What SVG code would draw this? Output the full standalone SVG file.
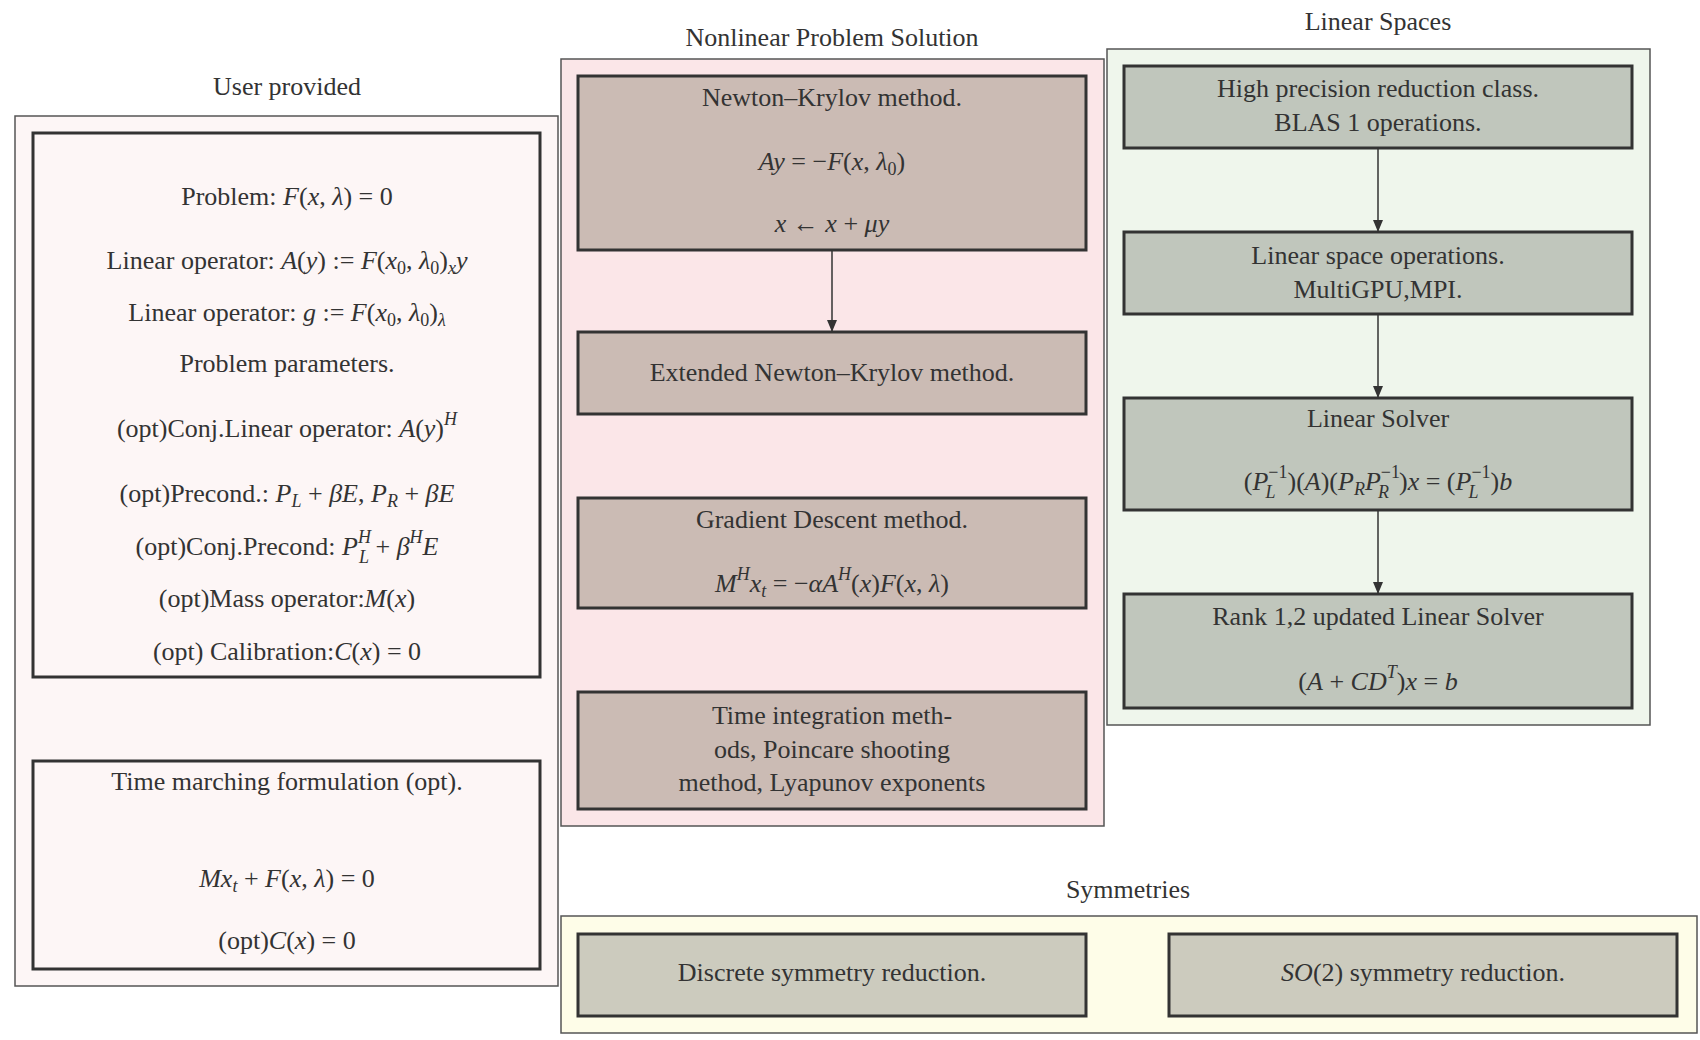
<svg xmlns="http://www.w3.org/2000/svg" width="1700" height="1040" viewBox="0 0 1700 1040">
<style>
text{font-family:"Liberation Serif","DejaVu Serif",serif;font-size:26px;fill:#333;text-anchor:middle}
.t{font-size:26px}
.i{font-style:italic}
.s{font-size:18px}
.outer{stroke:#555;stroke-width:1.5}
.node{stroke:#333;stroke-width:3}
.edge{stroke:#333;stroke-width:1.5;fill:none}
</style>
<defs>
<marker id="ah" markerWidth="12" markerHeight="16" refX="11" refY="8" orient="auto" markerUnits="userSpaceOnUse">
<path d="M0,3 L12,8 L0,13 Z" fill="#333"/>
</marker>
</defs>
<rect width="1700" height="1040" fill="#fff"/>

<g id="user">
<text class="t" x="287" y="95">User provided</text>
<rect class="outer" x="15" y="116" width="543" height="870" fill="#fdf6f6"/>
</g>
<g id="user-problem">
<rect class="node" x="33" y="133" width="507" height="544" fill="#fdf6f6"/>
<text x="287" y="205">Problem:  <tspan class="i">F</tspan>(<tspan class="i">x</tspan>, <tspan class="i">λ</tspan>) = 0</text>
<text x="287" y="269">Linear operator:  <tspan class="i">A</tspan>(<tspan class="i">y</tspan>) := <tspan class="i">F</tspan>(<tspan class="i">x</tspan><tspan class="s" dy="5">0</tspan><tspan dy="-5">, </tspan><tspan class="i">λ</tspan><tspan class="s" dy="5">0</tspan><tspan dy="-5">)</tspan><tspan class="s i" dy="5">x</tspan><tspan class="i" dy="-5">y</tspan></text>
<text x="287" y="321">Linear operator:  <tspan class="i">g</tspan> := <tspan class="i">F</tspan>(<tspan class="i">x</tspan><tspan class="s" dy="5">0</tspan><tspan dy="-5">, </tspan><tspan class="i">λ</tspan><tspan class="s" dy="5">0</tspan><tspan dy="-5">)</tspan><tspan class="s i" dy="5">λ</tspan></text>
<text x="287" y="372">Problem parameters.</text>
<text x="287" y="437">(opt)Conj.Linear operator:  <tspan class="i">A</tspan>(<tspan class="i">y</tspan>)<tspan class="s i" dy="-12">H</tspan></text>
<text x="287" y="502">(opt)Precond.:  <tspan class="i">P</tspan><tspan class="s i" dy="5">L</tspan><tspan dy="-5"> + </tspan><tspan class="i">βE</tspan>, <tspan class="i">P</tspan><tspan class="s i" dy="5">R</tspan><tspan dy="-5"> + </tspan><tspan class="i">βE</tspan></text>
<text x="287" y="555">(opt)Conj.Precond:  <tspan class="i">P</tspan><tspan class="s i" dy="-12">H</tspan><tspan class="s i" dx="-12" dy="20">L</tspan><tspan dy="-8"> + </tspan><tspan class="i">β</tspan><tspan class="s i" dy="-12">H</tspan><tspan class="i" dy="12">E</tspan></text>
<text x="287" y="607">(opt)Mass operator:<tspan class="i">M</tspan>(<tspan class="i">x</tspan>)</text>
<text x="287" y="660">(opt) Calibration:<tspan class="i">C</tspan>(<tspan class="i">x</tspan>) = 0</text>
</g>
<g id="user-time">
<rect class="node" x="33" y="761" width="507" height="208" fill="#fdf6f6"/>
<text x="287" y="790">Time marching formulation (opt).</text>
<text x="287" y="887"><tspan class="i">Mx</tspan><tspan class="s i" dy="5">t</tspan><tspan dy="-5"> + </tspan><tspan class="i">F</tspan>(<tspan class="i">x</tspan>, <tspan class="i">λ</tspan>) = 0</text>
<text x="287" y="949">(opt)<tspan class="i">C</tspan>(<tspan class="i">x</tspan>) = 0</text>
</g>

<g id="nonlinear">
<text class="t" x="832" y="46">Nonlinear Problem Solution</text>
<rect class="outer" x="561" y="59" width="543" height="767" fill="#fbe6e8"/>
</g>
<g id="nk">
<rect class="node" x="578" y="76" width="508" height="174" fill="#cbbbb4"/>
<text x="832" y="106">Newton–Krylov method.</text>
<text x="832" y="170"><tspan class="i">Ay</tspan> = −<tspan class="i">F</tspan>(<tspan class="i">x</tspan>, <tspan class="i">λ</tspan><tspan class="s" dy="5">0</tspan><tspan dy="-5">)</tspan></text>
<text x="832" y="232"><tspan class="i">x</tspan> ← <tspan class="i">x</tspan> + <tspan class="i">μy</tspan></text>
</g>
<g id="enk">
<rect class="node" x="578" y="332" width="508" height="82" fill="#cbbbb4"/>
<text x="832" y="381">Extended Newton–Krylov method.</text>
</g>
<g id="gd">
<rect class="node" x="578" y="498" width="508" height="110" fill="#cbbbb4"/>
<text x="832" y="528">Gradient Descent method.</text>
<text x="832" y="592"><tspan class="i">M</tspan><tspan class="s i" dy="-12">H</tspan><tspan class="i" dy="12">x</tspan><tspan class="s i" dy="5">t</tspan><tspan dy="-5"> = −</tspan><tspan class="i">αA</tspan><tspan class="s i" dy="-12">H</tspan><tspan dy="12">(</tspan><tspan class="i">x</tspan>)<tspan class="i">F</tspan>(<tspan class="i">x</tspan>, <tspan class="i">λ</tspan>)</text>
</g>
<g id="ti">
<rect class="node" x="578" y="692" width="508" height="117" fill="#cbbbb4"/>
<text x="832" y="724">Time integration meth-</text>
<text x="832" y="758">ods, Poincare shooting</text>
<text x="832" y="791">method, Lyapunov exponents</text>
</g>

<g id="linear">
<text class="t" x="1378" y="30">Linear Spaces</text>
<rect class="outer" x="1107" y="49" width="543" height="676" fill="#eff6ec"/>
</g>
<g id="blas">
<rect class="node" x="1124" y="66" width="508" height="82" fill="#c0c6bc"/>
<text x="1378" y="97">High precision reduction class.</text>
<text x="1378" y="131">BLAS 1 operations.</text>
</g>
<g id="lso">
<rect class="node" x="1124" y="232" width="508" height="82" fill="#c0c6bc"/>
<text x="1378" y="264">Linear space operations.</text>
<text x="1378" y="298">MultiGPU,MPI.</text>
</g>
<g id="ls">
<rect class="node" x="1124" y="398" width="508" height="112" fill="#c0c6bc"/>
<text x="1378" y="427">Linear Solver</text>
<text x="1378" y="490">(<tspan class="i">P</tspan><tspan class="s" dy="-12">−1</tspan><tspan class="s i" dx="-22" dy="20">L</tspan><tspan dx="12" dy="-8">)(</tspan><tspan class="i">A</tspan>)(<tspan class="i">P</tspan><tspan class="s i" dy="5">R</tspan><tspan class="i" dy="-5">P</tspan><tspan class="s" dy="-12">−1</tspan><tspan class="s i" dx="-22" dy="20">R</tspan><tspan dx="10" dy="-8">)</tspan><tspan class="i">x</tspan> = (<tspan class="i">P</tspan><tspan class="s" dy="-12">−1</tspan><tspan class="s i" dx="-22" dy="20">L</tspan><tspan dx="12" dy="-8">)</tspan><tspan class="i">b</tspan></text>
</g>
<g id="rank">
<rect class="node" x="1124" y="594" width="508" height="114" fill="#c0c6bc"/>
<text x="1378" y="625">Rank 1,2 updated Linear Solver</text>
<text x="1378" y="690">(<tspan class="i">A</tspan> + <tspan class="i">CD</tspan><tspan class="s i" dy="-12">T</tspan><tspan dy="12">)</tspan><tspan class="i">x</tspan> = <tspan class="i">b</tspan></text>
</g>

<g id="symmetries">
<text class="t" x="1128" y="898">Symmetries</text>
<rect class="outer" x="561" y="916" width="1136" height="117" fill="#fefde8"/>
</g>
<g id="discrete">
<rect class="node" x="578" y="934" width="508" height="82" fill="#cccbbe"/>
<text x="832" y="981">Discrete symmetry reduction.</text>
</g>
<g id="so2">
<rect class="node" x="1169" y="934" width="508" height="82" fill="#cccbbe"/>
<text x="1423" y="981"><tspan class="i">SO</tspan>(2) symmetry reduction.</text>
</g>

<g id="connectors">
<line class="edge" x1="832" y1="250" x2="832" y2="331" marker-end="url(#ah)"/>
<line class="edge" x1="1378" y1="148" x2="1378" y2="231" marker-end="url(#ah)"/>
<line class="edge" x1="1378" y1="314" x2="1378" y2="397" marker-end="url(#ah)"/>
<line class="edge" x1="1378" y1="510" x2="1378" y2="593" marker-end="url(#ah)"/>
</g>
</svg>
